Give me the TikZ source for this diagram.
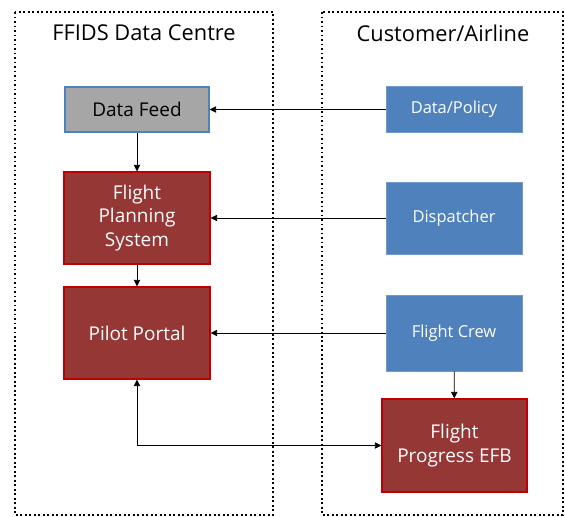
\documentclass[tikz,border=0pt]{standalone}
\usepackage{fontspec}
\setmainfont{Open Sans}
\usetikzlibrary{arrows.meta}

\definecolor{feedgray}{HTML}{A6A6A6}
\definecolor{boxblue}{HTML}{4F81BD}
\definecolor{boxred}{HTML}{953735}
\definecolor{edgered}{HTML}{C00000}

\tikzset{
  zone/.style={draw, line width=1.2pt, dotted},
  feedbox/.style={draw=boxblue, fill=feedgray, line width=1pt, text=black,
    minimum width=3.6cm, minimum height=1.125cm, font=\fontsize{13.5}{17}\selectfont},
  redbox/.style={draw=edgered, fill=boxred, line width=1pt, text=white, align=center,
    minimum width=3.65cm, minimum height=2.3cm, font=\fontsize{13.5}{17}\selectfont},
  bluebox/.style={draw=boxblue!80!white, fill=boxblue, line width=0.5pt, text=white, align=center,
    minimum width=3.4cm, font=\fontsize{11.7}{14}\selectfont},
  flow/.style={-{Triangle[length=4.5pt,width=4.5pt]}, line width=0.5pt}
}

\begin{document}
\begin{tikzpicture}[x=0.025cm,y=-0.025cm]
\useasboundingbox (0,0) rectangle (565,516);

\draw[zone] (15,12) rectangle (273,515);
\draw[zone] (322,12) rectangle (563,515);
\node (dctitle) at (144,33) {\fontsize{15.5}{18}\selectfont FFIDS Data Centre};
\node (catitle) at (443,33) {\fontsize{15.5}{18}\selectfont Customer/Airline};

\node (feed) [feedbox] at (137,109.5) {Data Feed};
\node (fps) [redbox] at (137,218) {Flight\\Planning\\System};
\node (portal) [redbox] at (137,333) {Pilot Portal};

\node (policy) [bluebox, minimum height=1.15cm] at (454,109.5) {Data/Policy};
\node (disp) [bluebox, minimum height=1.8cm] at (454,218) {Dispatcher};
\node (crew) [bluebox, minimum height=1.9cm] at (454,333) {Flight Crew};
\node (efb) [redbox, minimum width=3.625cm, minimum height=2.325cm] at (454.5,445.5) {Flight\\Progress EFB};

\draw[flow] (policy.west) -- (feed.east);
\draw[flow] (disp.west) -- (fps.east);
\draw[flow] (crew.west) -- (portal.east);
\draw[flow] (feed) -- (fps);
\draw[flow] (fps) -- (portal);
\draw[flow] (crew) -- (efb);
\draw[flow, {Triangle[length=4.5pt,width=4.5pt]}-{Triangle[length=4.5pt,width=4.5pt]}] (portal.south) |- (efb.west);
\end{tikzpicture}
\end{document}
